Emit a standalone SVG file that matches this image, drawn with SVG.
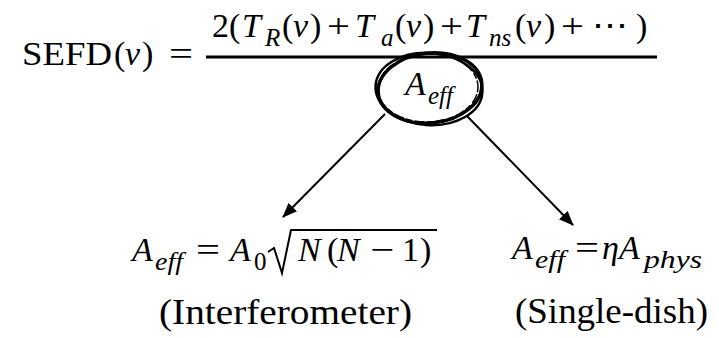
<svg xmlns="http://www.w3.org/2000/svg" width="719" height="338" viewBox="0 0 719 338">
<defs>
<style>
text{font-family:'Liberation Serif';fill:#000}
.m{font-size:34px}
.i{font-style:italic}
.s{font-size:25px;font-style:italic}
.u{font-size:25px}
.lbl{font-size:36px}
.conn{stroke:#000;stroke-width:2;fill:none}
.ring{fill:none;stroke:#000}
</style>
<marker id="ah" markerUnits="userSpaceOnUse" markerWidth="15" markerHeight="12" refX="14" refY="6" orient="auto">
<path d="M0,0 L15,6 L0,12 z" fill="#000"/>
</marker>
</defs>
<rect width="719" height="338" fill="#fff"/>

<g id="formula-sefd">
<text class="m" x="22" y="65" textLength="90" lengthAdjust="spacingAndGlyphs">SEFD</text>
<text class="m" x="114" y="65">(</text>
<text class="m i" x="125" y="65">ν</text>
<text class="m" x="142" y="65">)</text>
<text class="m" x="169" y="65" textLength="24" lengthAdjust="spacingAndGlyphs">=</text>
<line x1="206" y1="57" x2="657" y2="57" stroke="#000" stroke-width="3"/>
<text class="m" x="212" y="37">2(</text>
<text class="m i" x="242" y="37">T</text>
<text class="s" x="265" y="46">R</text>
<text class="m" x="282" y="37">(</text>
<text class="m i" x="293" y="37">ν</text>
<text class="m" x="310" y="37">)</text>
<text class="m" x="327" y="37" textLength="23" lengthAdjust="spacingAndGlyphs">+</text>
<text class="m i" x="355" y="37">T</text>
<text class="s" x="381" y="46">a</text>
<text class="m" x="395" y="37">(</text>
<text class="m i" x="406" y="37">ν</text>
<text class="m" x="423" y="37">)</text>
<text class="m" x="440" y="37" textLength="23" lengthAdjust="spacingAndGlyphs">+</text>
<text class="m i" x="466" y="37">T</text>
<text class="s" x="489" y="46">ns</text>
<text class="m" x="515" y="37">(</text>
<text class="m i" x="526" y="37">ν</text>
<text class="m" x="544" y="37">)</text>
<text class="m" x="561" y="37" textLength="23" lengthAdjust="spacingAndGlyphs">+</text>
<text class="m" x="592" y="37" textLength="36" lengthAdjust="spacingAndGlyphs">⋯</text>
<text class="m" x="636" y="37">)</text>
</g>

<g id="node-aeff">
<ellipse class="ring" cx="430" cy="88" rx="52" ry="35" stroke-width="3.5" transform="rotate(-6 430 88)"/>
<ellipse class="ring" cx="429" cy="89" rx="53.5" ry="36" stroke-width="2.5" transform="rotate(4 429 89)"/>
<ellipse class="ring" cx="428" cy="88" rx="50" ry="34" stroke-width="1.5" stroke-dasharray="6 2 10 3" transform="rotate(-2 428 88)"/>
<text class="m i" x="405" y="95">A</text>
<text class="s" x="428" y="104">eff</text>
</g>

<g id="node-interferometer">
<text class="m i" x="132" y="261">A</text>
<text class="s" x="155" y="270" textLength="28" lengthAdjust="spacingAndGlyphs">eff</text>
<text class="m" x="196" y="261" textLength="24" lengthAdjust="spacingAndGlyphs">=</text>
<text class="m i" x="230" y="261">A</text>
<text class="u" x="254" y="270">0</text>
<path d="M268,252 L274,248 L282,273 L291,230 L437,230" fill="none" stroke="#000" stroke-width="2"/>
<text class="m i" x="298" y="261">N</text>
<text class="m" x="327" y="261">(</text>
<text class="m i" x="337" y="261">N</text>
<text class="m" x="370" y="261" textLength="24" lengthAdjust="spacingAndGlyphs">−</text>
<text class="m" x="402" y="261">1</text>
<text class="m" x="420" y="261">)</text>
<text class="lbl" x="159" y="324" textLength="253" lengthAdjust="spacingAndGlyphs">(Interferometer)</text>
</g>

<g id="node-singledish">
<text class="m i" x="512" y="259">A</text>
<text class="s" x="535" y="268" textLength="30" lengthAdjust="spacingAndGlyphs">eff</text>
<text class="m" x="575" y="259" textLength="24" lengthAdjust="spacingAndGlyphs">=</text>
<text class="m i" x="602" y="259">η</text>
<text class="m i" x="619" y="259">A</text>
<text class="s" x="644" y="268" textLength="58" lengthAdjust="spacingAndGlyphs">phys</text>
<text class="lbl" x="515" y="323" textLength="193" lengthAdjust="spacingAndGlyphs">(Single-dish)</text>
</g>

<g id="connectors">
<line class="conn" x1="385" y1="114" x2="283" y2="217" marker-end="url(#ah)"/>
<line class="conn" x1="467" y1="116" x2="573" y2="225" marker-end="url(#ah)"/>
</g>
</svg>
